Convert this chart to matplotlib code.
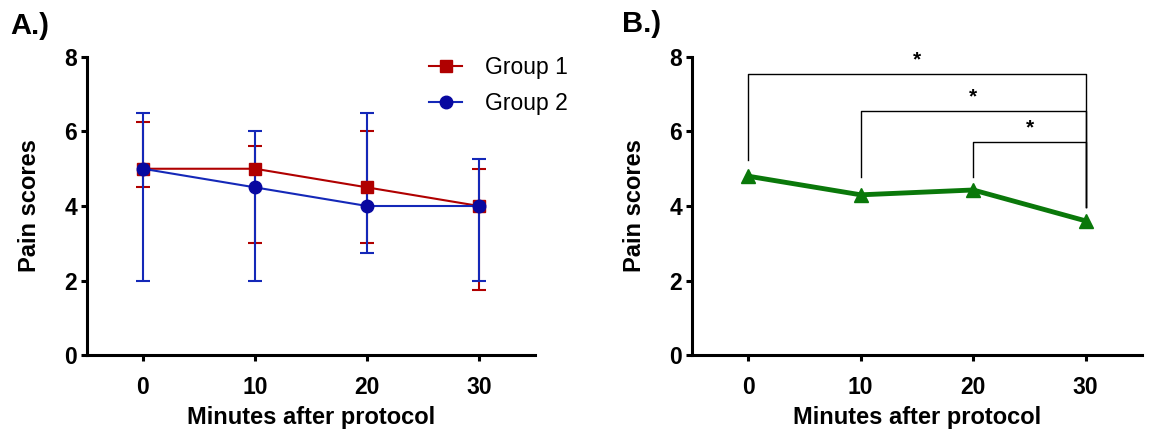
import matplotlib
matplotlib.use("Agg")
import matplotlib.pyplot as plt
from matplotlib.lines import Line2D

plt.rcParams['font.family'] = ['Liberation Sans', 'DejaVu Sans']

minutes = [0, 10, 20, 30]

# panel A: median with range-type bars (asymmetric)
g1_mid = [5, 5, 4.5, 4]
g1_low = [4.5, 3, 3, 1.75]
g1_high = [6.25, 5.6, 6, 5]
g2_mid = [5, 4.5, 4, 4]
g2_low = [2, 2, 2.75, 2]
g2_high = [6.5, 6, 6.5, 5.25]

# panel B: all subjects
all_mean = [4.8, 4.3, 4.43, 3.6]
sig_pairs = [(0, 30), (10, 30), (20, 30)]
sig_heights = [7.55, 6.55, 5.72]
sig_left_bottom = [5.23, 4.78, 4.78]
sig_right_bottom = 3.97

red = '#B00000'
blue = '#1428B8'
blue_dark = '#0808A0'
green = '#0A780A'

fig = plt.figure(figsize=(11.52, 4.37), dpi=100)
axA = fig.add_axes([0.0755, 0.1876, 0.389, 0.682])
axB = fig.add_axes([0.6007, 0.1876, 0.3906, 0.682])


def style(ax):
    for s in ['top', 'right']:
        ax.spines[s].set_visible(False)
    for s in ['left', 'bottom']:
        ax.spines[s].set_linewidth(2.2)
    ax.set_xlim(-5, 35)
    ax.set_ylim(0, 8)
    ax.set_xticks(minutes)
    ax.set_yticks([0, 2, 4, 6, 8])
    ax.tick_params(axis='both', width=2.2, length=4, labelsize=16.5)
    ax.tick_params(axis='x', pad=11)
    ax.tick_params(axis='y', pad=3)
    for lab in ax.get_xticklabels() + ax.get_yticklabels():
        lab.set_fontweight('bold')
    ax.set_xlabel('Minutes after protocol', fontsize=17, fontweight='bold', labelpad=5)
    ax.set_ylabel('Pain scores', fontsize=17, fontweight='bold', labelpad=17)


style(axA)
style(axB)

# panel A
e1 = [[m - l for m, l in zip(g1_mid, g1_low)], [h - m for m, h in zip(g1_mid, g1_high)]]
e2 = [[m - l for m, l in zip(g2_mid, g2_low)], [h - m for m, h in zip(g2_mid, g2_high)]]
axA.errorbar(minutes, g1_mid, yerr=e1, color=red, marker='s', markersize=9,
             markerfacecolor=red, markeredgecolor=red, linewidth=1.5,
             elinewidth=1.5, capsize=5, capthick=1.5, clip_on=False)
axA.errorbar(minutes, g2_mid, yerr=e2, color=blue, marker='o', markersize=9,
             markerfacecolor=blue_dark, markeredgecolor=blue_dark, linewidth=1.5,
             elinewidth=1.5, capsize=5, capthick=1.5, clip_on=False)
handles = [Line2D([], [], color=red, marker='s', markersize=9, linewidth=1.5),
           Line2D([], [], color=blue, marker='o', markersize=9, linewidth=1.5,
                  markerfacecolor=blue_dark, markeredgecolor=blue_dark)]
axA.legend(handles, ['Group 1', 'Group 2'], loc='upper left',
           bbox_to_anchor=(429 / 1152, 0.872), bbox_transform=fig.transFigure,
           frameon=False, fontsize=16.5, handlelength=1.45, handletextpad=1.0,
           labelspacing=0.55, borderpad=0, borderaxespad=0)

# panel B
axB.plot(minutes, all_mean, color=green, linewidth=3.5, marker='^', markersize=10, clip_on=False)
for (x1, x2), h, lb in zip(sig_pairs, sig_heights, sig_left_bottom):
    axB.plot([x1, x1, x2, x2], [lb, h, h, sig_right_bottom], color='black', linewidth=1.0)
    axB.text((x1 + x2) / 2, h + 0.12, '*', ha='center', va='bottom', fontsize=15, fontweight='bold')

fig.text(0.009, 0.94, 'A.)', fontsize=21, fontweight='bold', va='center')
fig.text(0.54, 0.945, 'B.)', fontsize=21, fontweight='bold', va='center')

fig.savefig('out.png', dpi=100)
